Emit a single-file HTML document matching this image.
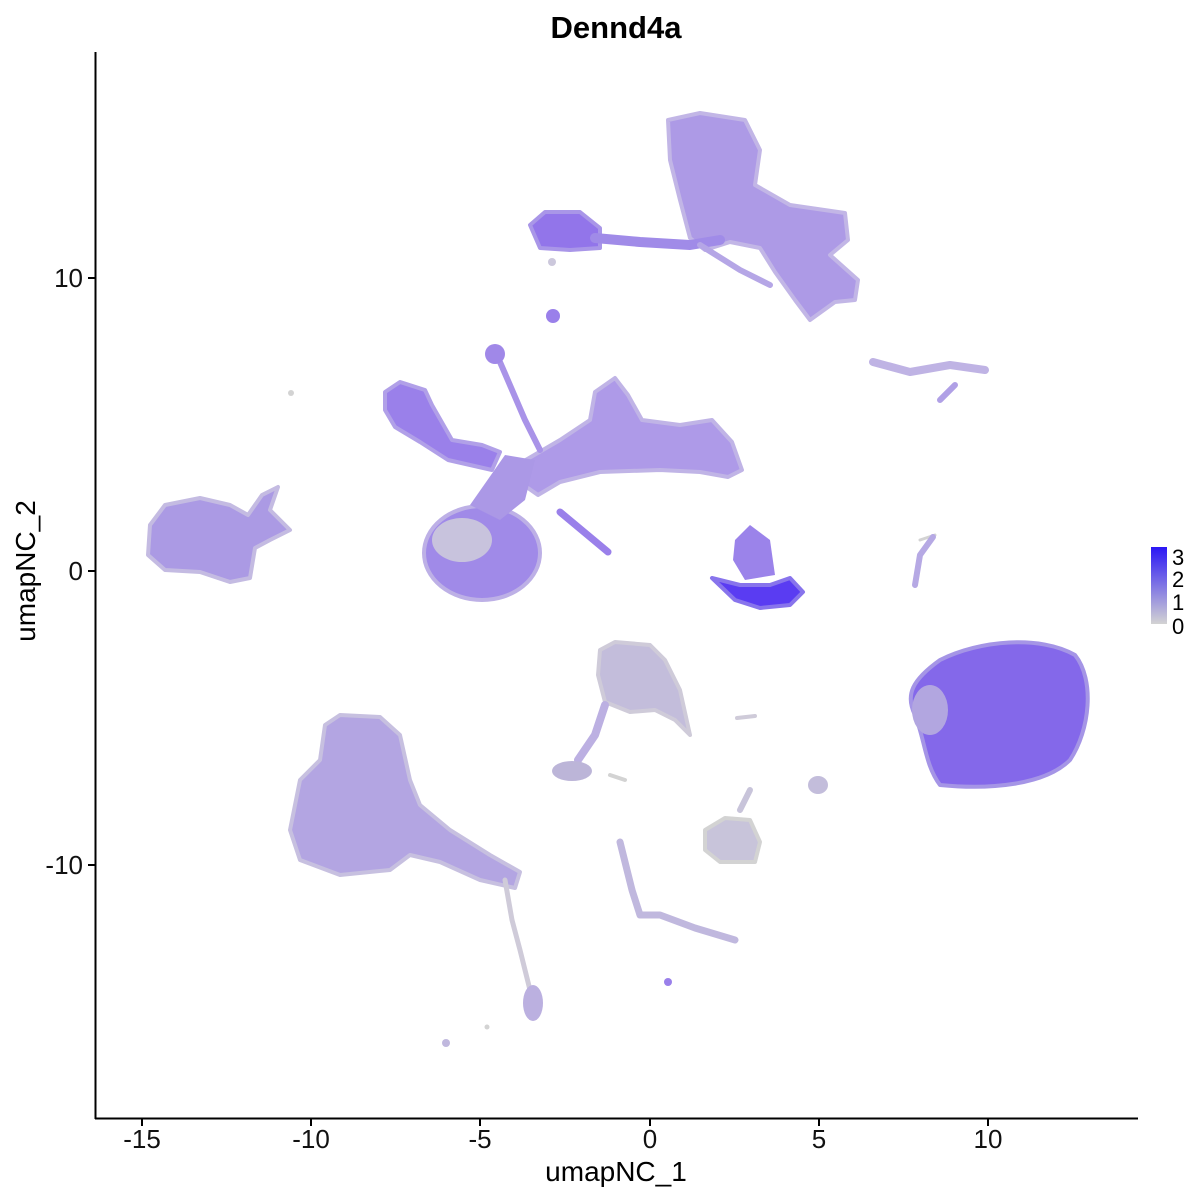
<!DOCTYPE html>
<html><head><meta charset="utf-8"><style>
html,body{margin:0;padding:0;background:#fff;}
svg{display:block;font-family:"Liberation Sans",sans-serif;}
</style></head><body>
<svg width="1200" height="1200" viewBox="0 0 1200 1200" xmlns="http://www.w3.org/2000/svg">
<defs>
<linearGradient id="lg" x1="0" y1="1" x2="0" y2="0">
<stop offset="0" stop-color="#d3d3d3"/><stop offset="1" stop-color="#2b17f5"/>
</linearGradient>
</defs>
<text x="616" y="38" font-size="31" font-weight="bold" text-anchor="middle">Dennd4a</text>

<g stroke-linejoin="round" stroke-linecap="round">
<polygon points="668,120 700,113 745,120 760,150 755,185 790,205 845,213 848,240 830,255 858,280 855,300 835,302 810,320 795,300 775,272 760,248 730,242 705,250 690,238 680,200 670,160" fill="#ad9ae6" stroke="#c2b6e6" stroke-width="4"/>
<polygon points="530,225 545,212 580,212 600,228 600,248 570,250 540,248" fill="#9275ea" stroke="#a996e8" stroke-width="4"/>
<polyline points="595,238 640,242 690,245 720,240" fill="none" stroke="#a08be8" stroke-width="10"/>
<polyline points="700,245 740,270 770,285" fill="none" stroke="#b5a6e6" stroke-width="6"/>
<circle cx="553" cy="316" r="7" fill="#9a80ea"/>
<circle cx="552" cy="262" r="4" fill="#ccc8dc"/>
<polyline points="873,362 910,372 950,365 985,370" fill="none" stroke="#bfb3e4" stroke-width="8"/>
<polyline points="940,400 955,385" fill="none" stroke="#b0a0e6" stroke-width="6"/>
<polygon points="385,392 400,382 425,390 432,405 452,440 482,445 500,452 492,470 470,465 448,460 420,442 395,427 385,410" fill="#9a80ea" stroke="#b1a0e8" stroke-width="4"/>
<polygon points="505,472 560,440 590,420 595,392 615,378 628,395 642,420 680,425 712,420 732,442 742,470 728,477 700,472 660,470 600,472 560,482 538,495" fill="#ae9ae8" stroke="#c0b4e6" stroke-width="4"/>
<ellipse cx="482" cy="553" rx="58" ry="47" fill="#a08ae8" stroke="#bdb0e6" stroke-width="4"/>
<ellipse cx="462" cy="540" rx="30" ry="22" fill="#c8c3dd"/>
<polygon points="470,505 505,455 535,460 525,500 500,520" fill="#ab98e6"/>
<polyline points="500,362 525,420 540,450" fill="none" stroke="#a993e8" stroke-width="6"/>
<circle cx="495" cy="354" r="10" fill="#a088e8"/>
<polyline points="560,512 608,552" fill="none" stroke="#9a80ea" stroke-width="7"/>
<circle cx="291" cy="393" r="3" fill="#d3d3d3"/>
<polygon points="150,525 165,505 200,498 230,505 248,515 262,495 278,487 270,510 290,530 270,540 255,548 250,578 230,582 200,572 165,570 148,555" fill="#ab9ae4" stroke="#c4bbe2" stroke-width="4"/>
<polygon points="712,578 740,585 770,585 790,578 803,592 790,605 760,608 735,600" fill="#5a3cf2" stroke="#8874ec" stroke-width="4"/>
<polygon points="735,540 750,525 770,540 775,575 745,580 733,560" fill="#9b83ea"/>
<polyline points="920,540 935,535" fill="none" stroke="#d3d3d3" stroke-width="3"/>
<polyline points="915,585 920,555 933,537" fill="none" stroke="#b6a9e4" stroke-width="6"/>
<path d="M940,660 C980,640 1040,635 1075,655 C1095,680 1090,730 1070,760 C1045,785 990,790 940,785 C925,765 925,740 915,715 C905,695 912,680 940,660 Z" fill="#8468ea" stroke="#a595e6" stroke-width="4"/>
<ellipse cx="930" cy="710" rx="18" ry="25" fill="#b2a6e0"/>
<polygon points="600,650 615,642 650,645 665,660 680,690 690,735 675,720 655,710 630,712 605,702 598,675" fill="#c3bddb" stroke="#cfcbd9" stroke-width="4"/>
<polyline points="605,705 595,735 578,760" fill="none" stroke="#bcb0e2" stroke-width="8"/>
<ellipse cx="572" cy="771" rx="20" ry="10" fill="#bcb5d8"/>
<polyline points="610,775 625,780" fill="none" stroke="#d3d3d3" stroke-width="4"/>
<polygon points="705,830 725,818 750,820 760,842 755,862 720,862 705,850" fill="#c8c4da" stroke="#d3d3d3" stroke-width="4"/>
<polyline points="740,810 750,790" fill="none" stroke="#c8c4da" stroke-width="6"/>
<ellipse cx="818" cy="785" rx="10" ry="9" fill="#c3bddb"/>
<polyline points="737,718 755,716" fill="none" stroke="#cfcbd9" stroke-width="4"/>
<polyline points="620,842 632,890 640,915 660,915 695,928 735,940" fill="none" stroke="#c0b8de" stroke-width="7"/>
<circle cx="668" cy="982" r="4" fill="#9a80ea"/>
<polygon points="325,725 340,715 380,717 400,735 410,780 420,805 450,830 490,855 520,872 515,888 480,880 440,862 410,855 390,870 340,875 300,860 290,830 300,780 320,760" fill="#b3a5e2" stroke="#c7c0e0" stroke-width="4"/>
<polyline points="505,880 512,920 520,950 530,990 535,1015" fill="none" stroke="#cfcbd9" stroke-width="5"/>
<ellipse cx="533" cy="1003" rx="10" ry="18" fill="#bbb0e0"/>
<circle cx="446" cy="1043" r="4" fill="#c0b8de"/>
<circle cx="487" cy="1027" r="2.5" fill="#d3d3d3"/>
</g>

<line x1="95.5" y1="52" x2="95.5" y2="1119" stroke="#000" stroke-width="2"/>
<line x1="95" y1="1118.5" x2="1138" y2="1118.5" stroke="#000" stroke-width="2"/>
<g stroke="#000" stroke-width="2">
<line x1="88" y1="278" x2="95" y2="278"/><line x1="88" y1="571" x2="95" y2="571"/><line x1="88" y1="865" x2="95" y2="865"/>
<line x1="142" y1="1119" x2="142" y2="1126"/><line x1="311" y1="1119" x2="311" y2="1126"/><line x1="480" y1="1119" x2="480" y2="1126"/><line x1="650" y1="1119" x2="650" y2="1126"/><line x1="819" y1="1119" x2="819" y2="1126"/><line x1="988" y1="1119" x2="988" y2="1126"/>
</g>
<g font-size="26" fill="#111">
<text x="83" y="287" text-anchor="end">10</text>
<text x="83" y="580" text-anchor="end">0</text>
<text x="83" y="874" text-anchor="end">-10</text>
<g text-anchor="middle">
<text x="142" y="1148">-15</text><text x="311" y="1148">-10</text><text x="480" y="1148">-5</text><text x="650" y="1148">0</text><text x="819" y="1148">5</text><text x="988" y="1148">10</text>
</g>
</g>
<text x="616" y="1181" font-size="28" text-anchor="middle">umapNC_1</text>
<text transform="translate(35,571) rotate(-90)" font-size="28" text-anchor="middle">umapNC_2</text>
<rect x="1151" y="547" width="16" height="77" fill="url(#lg)"/>
<g font-size="22" fill="#000">
<text x="1172" y="565">3</text><text x="1172" y="587">2</text><text x="1172" y="610">1</text><text x="1172" y="634">0</text>
</g>
</svg>
</body></html>
